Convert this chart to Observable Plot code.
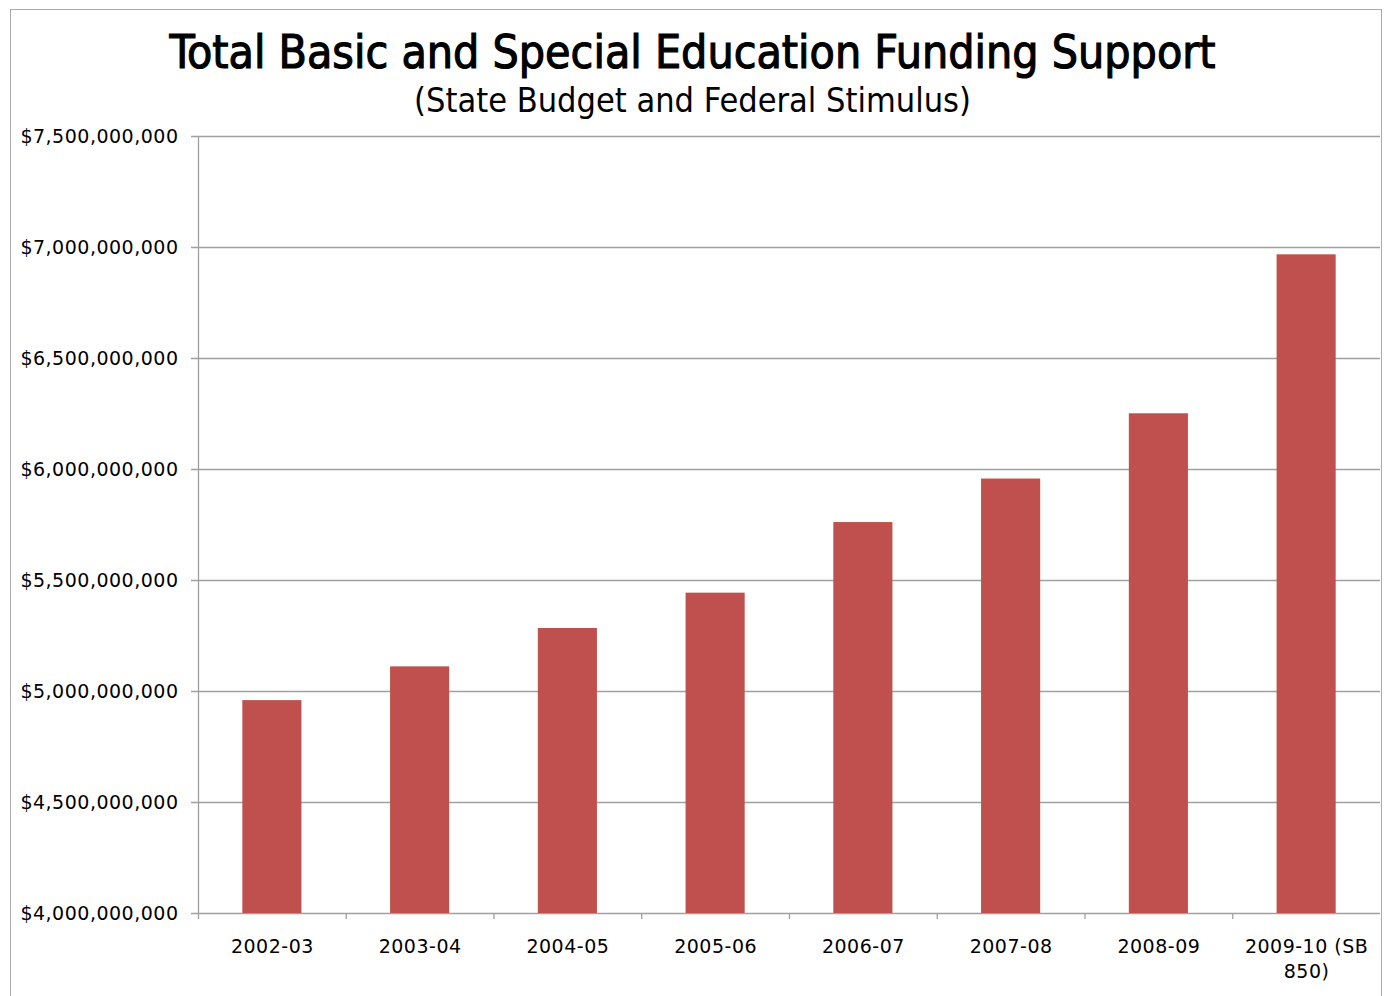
<!DOCTYPE html>
<html><head><meta charset="utf-8">
<script src="https://cdn.jsdelivr.net/npm/d3@7"></script>
<script src="https://cdn.jsdelivr.net/npm/@observablehq/plot@0.6"></script>
<style>
html,body{margin:0;padding:0;background:#fff;}
#wrap{position:relative;width:1385px;height:996px;overflow:hidden;background:#fff;}
#border{position:absolute;left:10px;top:9px;width:1372px;height:1010px;border:1.5px solid #a8a8a8;box-sizing:border-box;}
#title{position:absolute;left:0;width:1385px;top:27px;text-align:center;line-height:50px;}
#title span{display:inline-block;font-family:"DejaVu Sans Condensed",sans-serif;font-size:46px;font-weight:normal;-webkit-text-stroke:1.1px #000;color:#000;white-space:nowrap;transform-origin:50% 0;}
#subtitle{position:absolute;left:0;width:1385px;top:80px;text-align:center;font-family:"DejaVu Sans Condensed",sans-serif;font-size:34px;line-height:40px;color:#000;white-space:nowrap;}
#chart{position:absolute;left:0;top:120px;}
</style>
</head><body>
<div id="wrap">
  <div id="border"></div>
  <div id="title"><span id="titleText">Total Basic and Special Education Funding Support</span></div>
  <div id="subtitle">(State Budget and Federal Stimulus)</div>
  <div id="chart"></div>
</div>
<script>
const categories = ["2002-03","2003-04","2004-05","2005-06","2006-07","2007-08","2008-09","2009-10 (SB 850)"];
const values = [4.959e9, 5.111e9, 5.284e9, 5.443e9, 5.761e9, 5.957e9, 6.251e9, 6.967e9];
const yTicks = [4.0e9, 4.5e9, 5.0e9, 5.5e9, 6.0e9, 6.5e9, 7.0e9, 7.5e9];
const xTickLabels = {"2009-10 (SB 850)": "2009-10 (SB\n850)"};

const data = categories.map((c, i) => ({category: c, value: values[i]}));

// fit title to the reference width
const t = document.getElementById("titleText");
const tw = t.getBoundingClientRect().width;
t.style.transform = `scaleX(${1046 / tw})`;

const W = 1385, H = 876, mL = 198, mR = 5, mT = 16, mB = 83;
const padIn = 0.6, padOut = 0.3;
const step = (W - mL - mR) / (categories.length - padIn + 2 * padOut);
const grid = "#a0a0a0";
const base = yTicks[0];

const chart = Plot.plot({
  width: W, height: H,
  marginLeft: mL, marginRight: mR, marginTop: mT, marginBottom: mB,
  style: {fontFamily: "'DejaVu Sans', sans-serif", fontSize: "19px", color: "#000", background: "transparent", letterSpacing: "0.5px"},
  x: {domain: categories, paddingInner: padIn, paddingOuter: padOut, round: false, label: null},
  y: {domain: [yTicks[0], yTicks[yTicks.length - 1]], label: null},
  marks: [
    Plot.ruleY(yTicks, {y: d => d, stroke: grid, strokeWidth: 1.3, insetLeft: -7}),
    Plot.ruleX([categories[0]], {x: d => d, dx: -step / 2, stroke: grid, strokeWidth: 1.3}),
    Plot.ruleX(categories, {x: d => d, y1: base, y2: base, dx: -step / 2, insetBottom: -6, stroke: grid, strokeWidth: 1.3}),
    Plot.barY(data, {x: "category", y1: base, y2: "value", fill: "#c0504d"}),
    Plot.axisY({ticks: yTicks, tickSize: 0, tickPadding: 20, tickFormat: d => "$" + d3.format(",")(d), fontSize: 19}),
    Plot.axisX({tickSize: 0, tickPadding: 22, tickFormat: d => xTickLabels[d] || d, fontSize: 19, lineHeight: 1.3})
  ]
});
document.getElementById("chart").appendChild(chart);
</script>
</body></html>
